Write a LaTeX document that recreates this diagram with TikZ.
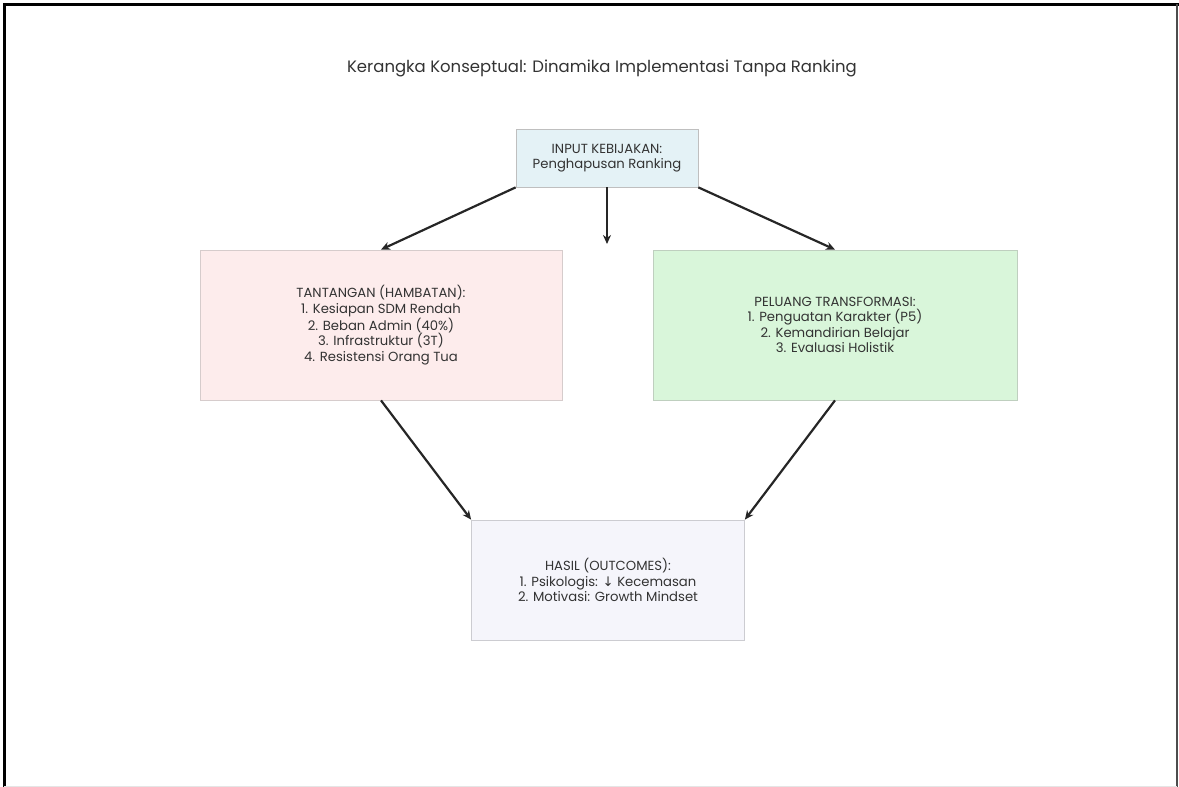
\documentclass[tikz,border=0pt]{standalone}
\usepackage{fontspec}
\setmainfont{Poppins}
\newfontfamily\symfont{DejaVu Sans}
\usepackage{xcolor}
\usepackage{tikz}
\usetikzlibrary{arrows.meta}

\definecolor{inputfill}{HTML}{E4F2F6}
\definecolor{tantfill}{HTML}{FDECEC}
\definecolor{peluangfill}{HTML}{D9F6DA}
\definecolor{hasilfill}{HTML}{F5F5FB}
\definecolor{textgray}{HTML}{333333}

\begin{document}
\begin{tikzpicture}[x=1pt, y=-1pt,
    box/.style={draw=#1, line width=0.8pt, align=center, text=textgray,
        font=\fontsize{13.2}{15.5}\selectfont, inner sep=0pt},
    link/.style={line width=2.2pt, draw=black!85, -{Stealth[length=9pt, width=8pt]}}]
    \useasboundingbox (0,0) rectangle (1179,787);
    % frame
    \draw[line width=3pt] (4,787) -- (4,4) -- (1179,4);
    \draw[black!70, line width=1.2pt] (1177,4) -- (1177,787);
    \draw[black!10, line width=1pt] (4,786) -- (1177,786);

    \node[textgray, font=\fontsize{16.5}{20}\selectfont] (title) at (602,68)
        {Kerangka Konseptual: Dinamika Implementasi Tanpa Ranking};

    \node[box=black!25, fill=inputfill, minimum width=182pt, minimum height=58pt]
        (input) at (607,158) {INPUT KEBIJAKAN:\\Penghapusan Ranking};
    \node[box=red!20!black!20, fill=tantfill, minimum width=362pt, minimum height=150pt]
        (tantangan) at (381,325) {TANTANGAN (HAMBATAN):\\1. Kesiapan SDM Rendah\\2. Beban Admin (40\%)\\3. Infrastruktur (3T)\\4. Resistensi Orang Tua};
    \node[box=green!25!black!25, fill=peluangfill, minimum width=364pt, minimum height=150pt]
        (peluang) at (835,325) {PELUANG TRANSFORMASI:\\1. Penguatan Karakter (P5)\\2. Kemandirian Belajar\\3. Evaluasi Holistik};
    \node[box=blue!10!black!20, fill=hasilfill, minimum width=273pt, minimum height=120pt]
        (hasil) at (608,580) {HASIL (OUTCOMES):\\1. Psikologis: {\symfont↓} Kecemasan\\2. Motivasi: Growth Mindset};

    \coordinate (gap) at (607,244);

    \draw[link] (input.south west) -- (tantangan.north);
    \draw[link] (input.south) -- (gap);
    \draw[link] (input.south east) -- (peluang.north);
    \draw[link] (tantangan.south) -- (hasil.north west);
    \draw[link] (peluang.south) -- (hasil.north east);
\end{tikzpicture}
\end{document}
